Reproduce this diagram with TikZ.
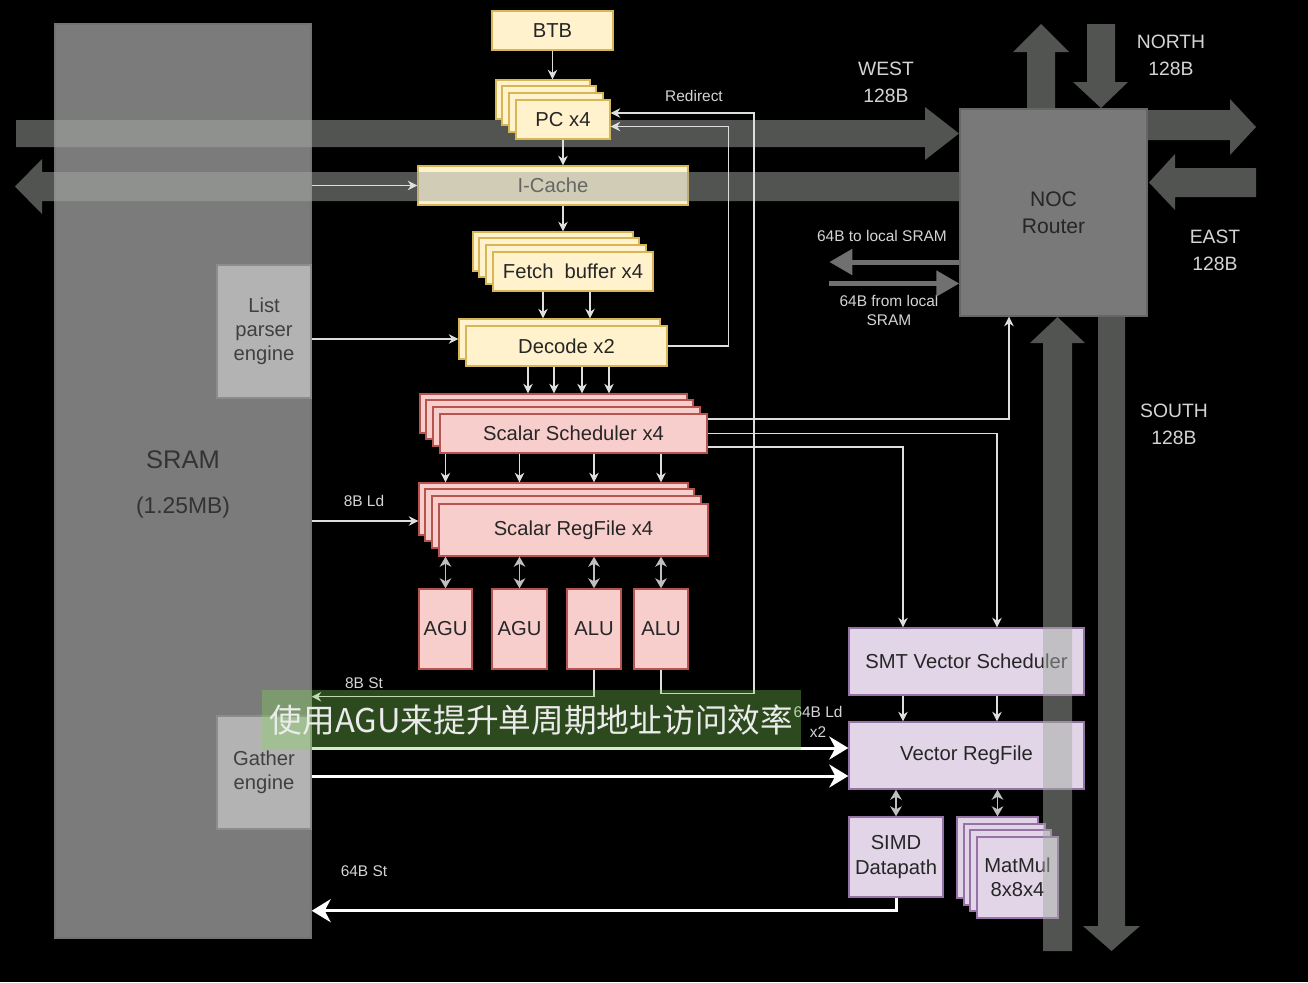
\documentclass[tikz,border=0pt]{standalone}
\usepackage{fontspec}
\setmainfont{Liberation Sans}
\newfontfamily\cjk{Noto Sans CJK SC}
\usetikzlibrary{arrows.meta,calc}

\definecolor{ylwfill}{HTML}{FFF2CC}
\definecolor{ylwline}{HTML}{D6B656}
\definecolor{redfill}{HTML}{F8CECC}
\definecolor{redline}{HTML}{B85450}
\definecolor{prpfill}{HTML}{E1D5E7}
\definecolor{prpline}{HTML}{9673A6}
\definecolor{gryfill}{HTML}{B3B3B3}
\definecolor{gryline}{HTML}{8C8C8C}
\definecolor{sramfill}{HTML}{7B7B7B}
\definecolor{nocfill}{HTML}{797979}
\definecolor{bandc}{RGB}{162,168,162}
\definecolor{wire}{HTML}{DEDEDE}
\definecolor{lbltxt}{HTML}{D4D4D4}
\definecolor{subgreen}{RGB}{129,214,86}
\definecolor{locarrow}{HTML}{707070}

\begin{document}
\begin{tikzpicture}[x=0.2mm, y=-0.2mm,
    blk/.style 2 args={draw, line width=0.8pt, minimum width=#1*0.2mm, minimum height=#2*0.2mm,
        inner sep=0pt, align=center, text=black!85, font=\fontsize{11.5}{13.8}\selectfont},
    ylw/.style={fill=ylwfill, draw=ylwline},
    pnk/.style={fill=redfill, draw=redline},
    prp/.style={fill=prpfill, draw=prpline},
    gry/.style={fill=gryfill, draw=gryline, text=black!75},
    lbl/.style={text=lbltxt, align=center, inner sep=0pt, font=\fontsize{11}{15.3}\selectfont},
    slbl/.style={text=lbltxt, align=center, inner sep=0pt, font=\fontsize{8.8}{11.3}\selectfont},
    band/.style={fill=bandc, fill opacity=0.5},
    conn/.style={draw=wire, line width=0.65pt, -{Stealth[length=1.9mm, width=1.9mm, inset=0.6mm]}},
    dconn/.style={draw=black!25, line width=1.1pt, {Stealth[length=2mm, width=2.3mm, inset=0.6mm]}-{Stealth[length=2mm, width=2.3mm, inset=0.6mm]}},
    fat/.style={draw=white, line width=0.6mm, -{Stealth[length=3.8mm, width=4.6mm, inset=1.2mm]}},
    loc/.style={draw=locarrow, line width=1mm, -{Triangle[length=4.6mm, width=5mm]}}]

\fill[black] (0,0) rectangle (1308,982);
\useasboundingbox (0,0) rectangle (1308,982);

% memory side
\node[blk={256}{914}, fill=sramfill, draw=black!55] (sram) at (183,481) {};
\node[text=black!80, font=\fontsize{14.5}{17}\selectfont] (sramname) at (183,460) {SRAM};
\node[text=black!80, font=\fontsize{13}{15}\selectfont] (sramsize) at (183,508) {(1.25MB)};
\node[blk={94}{133}, gry] (lpe) at (264,331.5) {List\\parser\\engine};
\node[blk={94}{113}, gry] (gather) at (264,772.5) {Gather\\engine};

\node[blk={270}{39}, ylw] (icache) at (553,185.5) {I-Cache};

% NOC links
\fill[band] (16,120) -- (925,120) -- (925,107) -- (959,133.5) -- (925,160) -- (925,147) -- (16,147) -- cycle;
\fill[band] (960,172) -- (42,172) -- (42,159) -- (15,186.5) -- (42,214) -- (42,201) -- (960,201) -- cycle;
\fill[band] (1027,109) -- (1027,52) -- (1013,52) -- (1041,24) -- (1069,52) -- (1055,52) -- (1055,109) -- cycle;
\fill[band] (1087,24) -- (1087,82) -- (1073,82) -- (1101,108) -- (1128,82) -- (1115,82) -- (1115,24) -- cycle;
\fill[band] (1147,110) -- (1230,110) -- (1230,99) -- (1256,127) -- (1230,155) -- (1230,140) -- (1147,140) -- cycle;
\fill[band] (1256,168) -- (1175,168) -- (1175,154) -- (1149,182.5) -- (1175,210) -- (1175,197) -- (1256,197) -- cycle;

\node[blk={187}{207}, fill=nocfill, draw=black!60, font=\fontsize{12}{15.3}\selectfont] (noc) at (1053.5,212.5) {NOC\\Router};

% front end
\node[blk={121}{39}, ylw] (btb) at (552.5,30.5) {BTB};
\foreach \d in {20,14,7} \node[blk={94}{39}, ylw] (pc\d) at (563-\d,119.5-\d) {};
\node[blk={94}{39}, ylw] (pc) at (563,119.5) {PC x4};
\foreach \d in {20,14,7} \node[blk={160}{39}, ylw] (fb\d) at (573-\d,271.5-\d) {};
\node[blk={160}{39}, ylw] (fb) at (573,271.5) {Fetch~~buffer x4};
\node[blk={201}{40}, ylw] (dec7) at (559.5,339) {};
\node[blk={201}{40}, ylw] (dec) at (566.5,346) {Decode x2};

% scalar back end
\foreach \d in {20,14,7} \node[blk={267}{39}, pnk] (sch\d) at (573.5-\d,433.5-\d) {};
\node[blk={267}{39}, pnk] (sch) at (573.5,433.5) {Scalar Scheduler x4};
\foreach \d in {20,14,7} \node[blk={269}{52}, pnk] (srf\d) at (573.5-\d,529-\d) {};
\node[blk={269}{52}, pnk] (srf) at (573.5,530) {Scalar RegFile x4};
\node[blk={53}{80}, pnk] (agu1) at (445.5,629) {AGU};
\node[blk={55}{80}, pnk] (agu2) at (519.5,629) {AGU};
\node[blk={54}{80}, pnk] (alu1) at (594,629) {ALU};
\node[blk={54}{80}, pnk] (alu2) at (661,629) {ALU};

% vector back end
\node[blk={235}{67}, prp] (smt) at (966.5,661.5) {SMT Vector Scheduler};
\node[blk={235}{67}, prp] (vrf) at (966.5,755.5) {Vector RegFile};
\node[blk={94}{80}, prp] (simd) at (896,857) {SIMD\\Datapath};
\foreach \d in {20,13,7} \node[blk={81}{81}, prp] (mm\d) at (1017.5-\d,877.5-\d) {};
\node[blk={81}{81}, prp] (mm) at (1017.5,877.5) {MatMul\\8x8x4};

% south link over the vector units
\fill[band] (1043,951) -- (1043,343) -- (1030,343) -- (1057.5,317) -- (1085,343) -- (1072,343) -- (1072,951) -- cycle;
\fill[band] (1098,317) -- (1098,926) -- (1083,926) -- (1111.5,951) -- (1140,926) -- (1125,926) -- (1125,317) -- cycle;

% labels
\node[lbl] (west) at (886,82.5) {WEST\\128B};
\node[lbl] (north) at (1171,55) {NORTH\\128B};
\node[lbl] (east) at (1215,250.5) {EAST\\128B};
\node[lbl] (south) at (1174,424) {SOUTH\\128B};
\node[slbl] (redir) at (694,96) {Redirect};
\node[slbl] (tolocal) at (882,236) {64B to local SRAM};
\node[slbl] (fromlocal) at (889,310.5) {64B from local\\SRAM};
\node[slbl] (ld8) at (364,501) {8B Ld};
\node[slbl] (st8l) at (364,683) {8B St};
\node[slbl] (st64l) at (364,871) {64B St};
\node[slbl] (ld64) at (818,722) {64B Ld\\x2};

% local SRAM port of the router
\draw[loc] ($(noc.west)+(0,49.5)$) -- ++(-130,0);
\draw[loc] ($(noc.west)+(-130,71)$) -- ++(130,0);

% front end wires
\draw[conn] (btb.south) -- (btb.south |- pc20.north);
\draw[conn] (pc.south) -- (pc.south |- icache.north);
\draw[conn] (sram.east |- icache.west) -- (icache.west);
\draw[conn] (pc.south |- icache.south) -- (pc.south |- fb20.north);
\foreach \dx in {-30,17} \draw[conn] ($(fb.south)+(\dx,0)$) coordinate (f) -- (f |- dec7.north);
\draw[conn] (lpe.east |- dec7.west) -- (dec7.west);
\foreach \dx in {-38.5,-12.5,15.5,42.5} \draw[conn] ($(dec.south)+(\dx,0)$) coordinate (d) -- (d |- sch20.north);
\draw[conn] (dec.east) -- ++(61,0) |- ($(pc.east)+(0,7)$);

% scalar wires
\foreach \u in {agu1,agu2,alu1,alu2} {
    \draw[conn] (sch.south -| \u) -- (srf20.north -| \u);
    \draw[dconn] (srf.south -| \u) -- (\u.north);
}
\coordinate (ldpt) at ($(srf20.west)+(0,12)$);
\draw[conn] (sram.east |- ldpt) -- (ldpt);
\draw[conn] (alu1.south) -- ++(0,27) coordinate (st) -- (sram.east |- st);
\draw[conn] (alu2.south) -- ++(0,24) -- ++(93,0) |- ($(pc.east)+(0,-6.5)$);
\draw[conn] ($(sch.east)+(0,-14.5)$) -| ($(noc.south)+(-44.5,0)$);
\draw[conn] (sch.east) -| ($(smt.north)+(30.5,0)$);
\draw[conn] ($(sch.east)+(0,13.5)$) -| ($(smt.north)+(-63.5,0)$);

% vector wires
\foreach \dx in {-63.5,30.5} \draw[conn] ($(smt.south)+(\dx,0)$) coordinate (v) -- (v |- vrf.north);
\draw[dconn] (vrf.south -| simd) -- (simd.north);
\draw[dconn] (vrf.south -| mm20) -- (mm20.north);
\foreach \dy in {-24.5,3.5} \draw[fat] ($(gather.east)+(0,\dy)$) coordinate (g) -- (g -| vrf.west);
\draw[fat] (simd.south) -- ++(0,13) coordinate (s) -- (s -| sram.east);

% subtitle
\node[fill=subgreen, fill opacity=0.35, text opacity=1, text=white!92!black, minimum width=539*0.2mm,
    minimum height=60*0.2mm, inner sep=0pt, font=\cjk\fontsize{18.6}{22}\selectfont] (sub) at (531.5,720) {使用AGU来提升单周期地址访问效率};

\end{tikzpicture}
\end{document}
